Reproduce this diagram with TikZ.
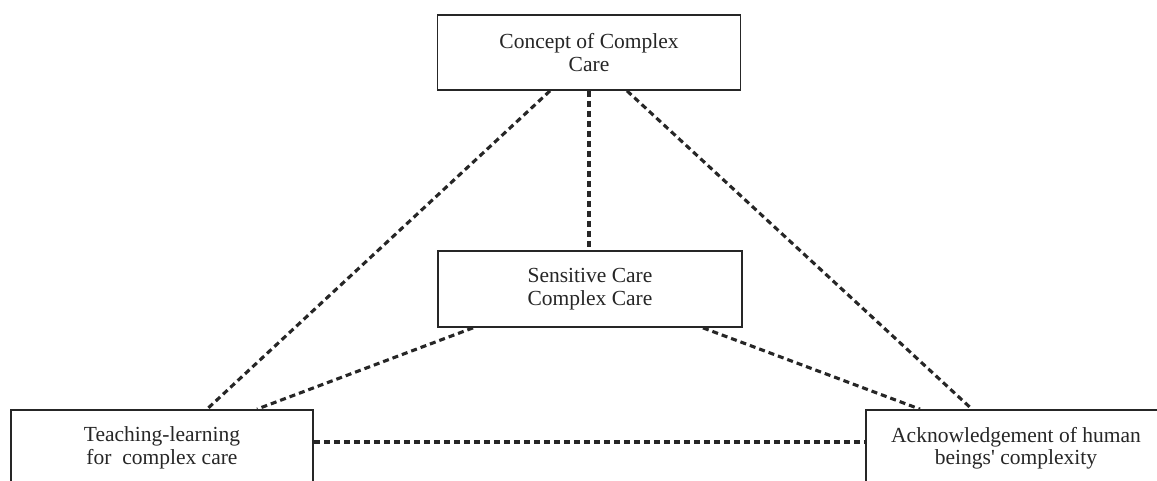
\documentclass[tikz,border=0pt]{standalone}
\usepackage{fontspec}
\setmainfont{Liberation Serif}[Ligatures=TeXOff]
\begin{document}
\begin{tikzpicture}[x=1pt,y=-1pt,
  box/.style={draw=black!85, line width=1.7pt, rectangle, align=center, inner sep=0pt,
    font=\fontsize{21.5}{22.5}\selectfont, text=black!85},
  link/.style={draw=black!85, line width=3.1pt, dash pattern=on 6pt off 4pt}]
\useasboundingbox (0,0) rectangle (1157,480);
\clip (0,0) rectangle (1157,480);
\fill[white] (0,0) rectangle (1157,480);
\node[box, minimum width=303pt, minimum height=75pt] (top) at (589,52.5) {Concept of Complex\\Care};
\node[box, minimum width=304pt, minimum height=76pt] (mid) at (590,289) {Sensitive Care\\Complex Care};
\node[box, minimum width=302pt, minimum height=76pt] (tl) at (162,448) {Teaching-learning\\for\ \ complex care};
\node[box, minimum width=300pt, minimum height=76pt] (br) at (1016,448) {Acknowledgement of human\\beings' complexity};
\draw[link] ([xshift=-39pt]top.south) -- ([xshift=45pt]tl.north);
\draw[link] ([xshift=38pt]top.south) -- ([xshift=-44pt]br.north);
\draw[link] (top.south) -- (top.south |- mid.north);
\draw[link] ([xshift=-117pt]mid.south) -- ([xshift=95pt]tl.north);
\draw[link] ([xshift=113pt]mid.south) -- ([xshift=-96pt]br.north);
\draw[link] ([yshift=6pt]tl.east) -- ([yshift=6pt]br.west);
\end{tikzpicture}
\end{document}
